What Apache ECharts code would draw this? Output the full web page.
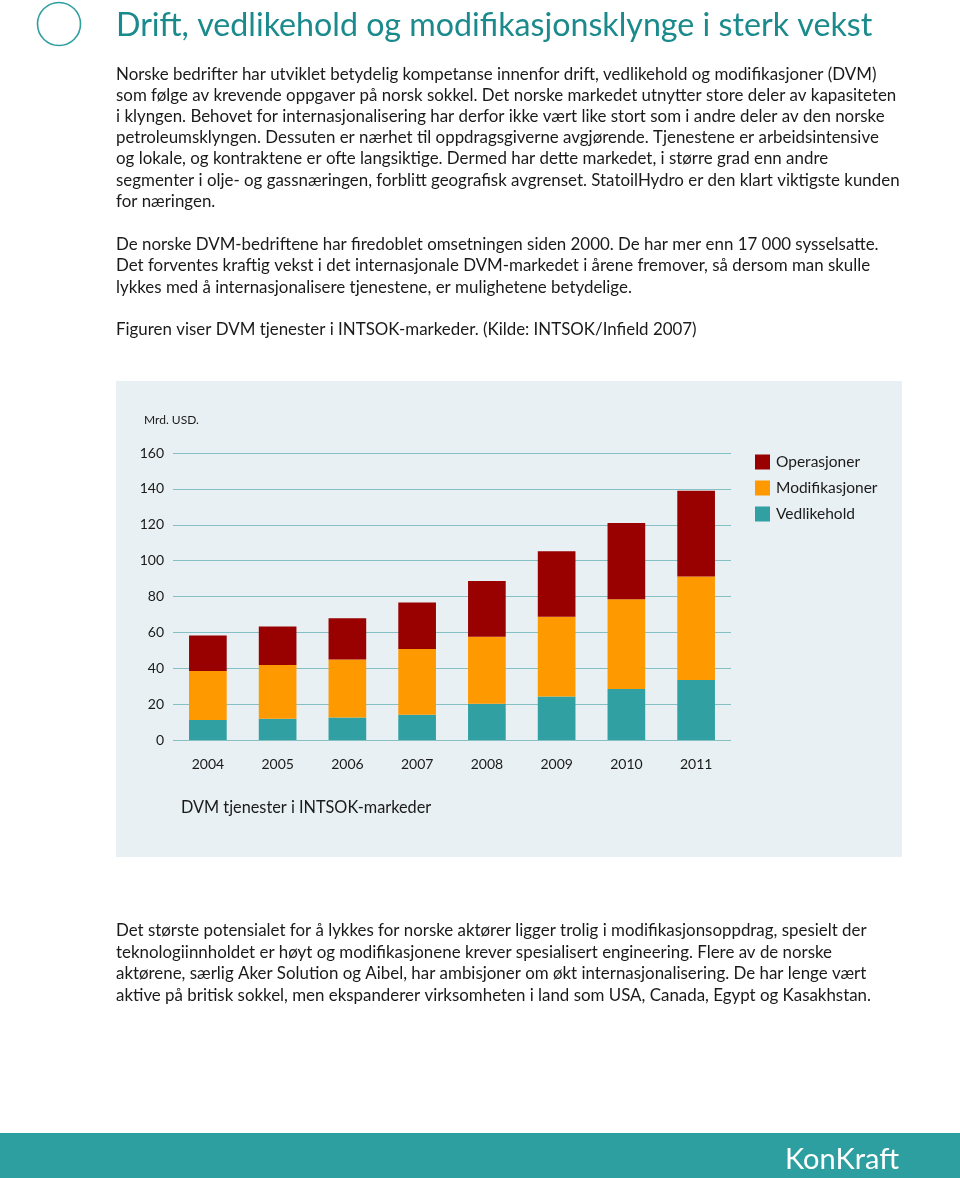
<!DOCTYPE html>
<html>
<head>
<meta charset="utf-8">
<script src="https://cdn.jsdelivr.net/npm/echarts@6/dist/echarts.min.js"></script>
<style>
html,body{margin:0;padding:0;background:#fff;}
#chart{width:960px;height:1178px;}
</style>
</head>
<body>
<div id="chart"></div>
<script>
// ---- data ----
const years = ['2004','2005','2006','2007','2008','2009','2010','2011'];
const vedlikehold = [11.1, 11.9, 12.6, 14.1, 20.2, 24.3, 28.4, 33.4];
const modifikasjoner = [27.3, 29.9, 32.3, 36.6, 37.3, 44.4, 50.1, 57.7];
const operasjoner = [19.9, 21.5, 23.0, 26.0, 31.2, 36.5, 42.5, 47.9];
const yTicks = [0, 20, 40, 60, 80, 100, 120, 140, 160];

const title = 'Drift, vedlikehold og modifikasjonsklynge i sterk vekst';
const para1 = [
  'Norske bedrifter har utviklet betydelig kompetanse innenfor drift, vedlikehold og modifikasjoner (DVM)',
  'som følge av krevende oppgaver på norsk sokkel. Det norske markedet utnytter store deler av kapasiteten',
  'i klyngen. Behovet for internasjonalisering har derfor ikke vært like stort som i andre deler av den norske',
  'petroleumsklyngen. Dessuten er nærhet til oppdragsgiverne avgjørende. Tjenestene er arbeidsintensive',
  'og lokale, og kontraktene er ofte langsiktige. Dermed har dette markedet, i større grad enn andre',
  'segmenter i olje- og gassnæringen, forblitt geografisk avgrenset. StatoilHydro er den klart viktigste kunden',
  'for næringen.'
];
const para2 = [
  'De norske DVM-bedriftene har firedoblet omsetningen siden 2000. De har mer enn 17 000 sysselsatte.',
  'Det forventes kraftig vekst i det internasjonale DVM-markedet i årene fremover, så dersom man skulle',
  'lykkes med å internasjonalisere tjenestene, er mulighetene betydelige.'
];
const para3 = ['Figuren viser DVM tjenester i INTSOK-markeder. (Kilde: INTSOK/Infield 2007)'];
const para4 = [
  'Det største potensialet for å lykkes for norske aktører ligger trolig i modifikasjonsoppdrag, spesielt der',
  'teknologiinnholdet er høyt og modifikasjonene krever spesialisert engineering. Flere av de norske',
  'aktørene, særlig Aker Solution og Aibel, har ambisjoner om økt internasjonalisering. De har lenge vært',
  'aktive på britisk sokkel, men ekspanderer virksomheten i land som USA, Canada, Egypt og Kasakhstan.'
];
const unitLabel = 'Mrd. USD.';
const chartCaption = 'DVM tjenester i INTSOK-markeder';
const logoText = 'KonKraft';

// ---- styling ----
const FONT = 'Lato, "Open Sans", sans-serif';
const TEAL = '#1b8a8c';
const C_RED = '#990000';
const C_ORANGE = '#ff9900';
const C_TEAL = '#30a0a2';
const TXT = '#1a1a1a';
const BODY = 16.9;

function textLines(lines, x, yc0, lh, size) {
  return lines.map((t, i) => ({
    type: 'text', left: x, top: yc0 + i * lh - size * 0.5, z: 10,
    style: { text: t, font: size + 'px ' + FONT, fill: TXT }
  }));
}

const graphics = [
  { type: 'rect', shape: { x: 116, y: 381, width: 786, height: 476 }, style: { fill: '#e8f0f3' }, z: -10 },
  { type: 'rect', shape: { x: 0, y: 1133, width: 960, height: 45 }, style: { fill: '#2e9fa0' }, z: -10 },
  { type: 'circle', shape: { cx: 59, cy: 24, r: 21.5 }, style: { fill: 'none', stroke: '#2e9fa0', lineWidth: 1.6 } },
  { type: 'text', left: 116, top: 10, style: { text: title, font: '32.2px ' + FONT, fill: TEAL } },
  { type: 'text', left: 144, top: 414, style: { text: unitLabel, font: '12px ' + FONT, fill: TXT } },
  { type: 'text', left: 181, top: 800, style: { text: chartCaption, font: '16.3px ' + FONT, fill: TXT } },
  { type: 'text', left: 785, top: 1145, style: { text: logoText, font: '29px ' + FONT, fill: '#ffffff' } }
].concat(
  textLines(para1, 116, 74, 21.2, BODY),
  textLines(para2, 116, 244, 21.5, BODY),
  textLines(para3, 116, 329, 21, BODY),
  textLines(para4, 116, 930.5, 21.6, BODY)
);

const chart = echarts.init(document.getElementById('chart'), null, { renderer: 'canvas' });
chart.setOption({
  animation: false,
  backgroundColor: '#ffffff',
  textStyle: { fontFamily: FONT },
  grid: { left: 173, right: 229, top: 453, bottom: 438, containLabel: false },
  legend: {
    orient: 'vertical', left: 755, top: 454, padding: 0, itemWidth: 15, itemHeight: 15, itemGap: 10,
    icon: 'rect',
    data: ['Operasjoner', 'Modifikasjoner', 'Vedlikehold'],
    textStyle: { fontSize: 15.5, color: TXT, fontFamily: FONT, padding: [0, 0, 0, 1] }
  },
  xAxis: {
    type: 'category', data: years,
    axisLine: { show: false }, axisTick: { show: false },
    axisLabel: { fontSize: 14, color: TXT, margin: 17, fontFamily: FONT }
  },
  yAxis: {
    type: 'value', min: 0, max: 160, interval: 20,
    axisLine: { show: false }, axisTick: { show: false },
    axisLabel: { fontSize: 14, color: TXT, margin: 9, fontFamily: FONT,
      formatter: v => yTicks.includes(v) ? String(v) : '' },
    splitLine: { lineStyle: { color: '#84c0c4', width: 1 } }
  },
  series: [
    { name: 'Vedlikehold', type: 'bar', stack: 's', data: vedlikehold, barWidth: '54%', itemStyle: { color: C_TEAL } },
    { name: 'Modifikasjoner', type: 'bar', stack: 's', data: modifikasjoner, itemStyle: { color: C_ORANGE } },
    { name: 'Operasjoner', type: 'bar', stack: 's', data: operasjoner, itemStyle: { color: C_RED } }
  ],
  graphic: graphics
});
</script>
</body>
</html>
